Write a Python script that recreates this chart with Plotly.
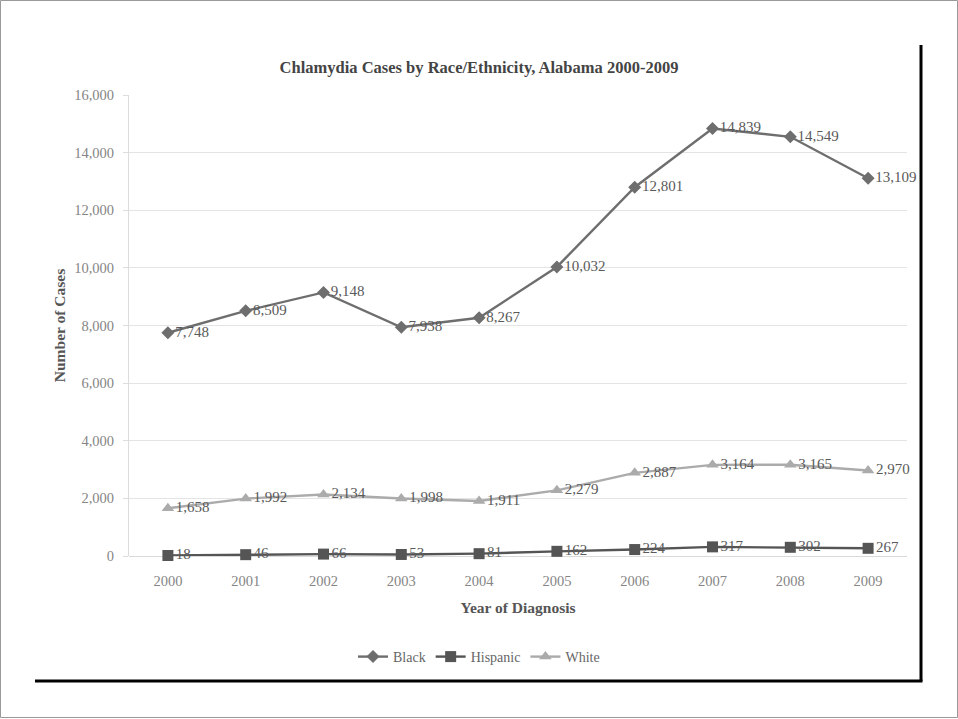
import plotly.graph_objects as go

years = ["2000", "2001", "2002", "2003", "2004", "2005", "2006", "2007", "2008", "2009"]
black = [7748, 8509, 9148, 7938, 8267, 10032, 12801, 14839, 14549, 13109]
hispanic = [18, 46, 66, 53, 81, 162, 224, 317, 302, 267]
white = [1658, 1992, 2134, 1998, 1911, 2279, 2887, 3164, 3165, 2970]
y_ticks = [0, 2000, 4000, 6000, 8000, 10000, 12000, 14000, 16000]

FONT = "Liberation Serif, Times New Roman, serif"

def fmt(v):
    return f"{v:,}"

L, R, T, B = 129, 51, 95, 163
W, H = 958, 719
PW, PH = W - L - R, H - T - B

def px(x):
    return (x - L) / PW

def py(y):
    return (T + PH - y) / PH

fig = go.Figure()
series = [
    ("Black", black, "#6e6e6e", "diamond", 10),
    ("Hispanic", hispanic, "#555555", "square", 11),
    ("White", white, "#ababab", "triangle-up", 11),
]
for name, vals, col, sym, ms in series:
    fig.add_trace(go.Scatter(
        x=years, y=vals, name=name, mode="lines+markers+text",
        line=dict(color=col, width=2.4),
        marker=dict(symbol=sym, size=ms, color=col),
        text=[fmt(v) for v in vals], textposition="middle right",
        textfont=dict(family=FONT, size=15, color="#5a5a5a"),
        cliponaxis=False,
    ))

fig.update_layout(
    width=W, height=H,
    margin=dict(l=L, r=R, t=T, b=B),
    paper_bgcolor="white", plot_bgcolor="white",
    font=dict(family=FONT, color="#666666"),
    title=dict(text="<b>Chlamydia Cases by Race/Ethnicity, Alabama 2000-2009</b>",
               x=0.5, xanchor="center", y=1 - 67 / H, yanchor="middle",
               font=dict(family=FONT, size=16.5, color="#444444")),
    xaxis=dict(type="category", range=[-0.5, 9.5], showgrid=False, showline=False, ticks="",
               automargin=False, ticklabelstandoff=14,
               tickfont=dict(family=FONT, size=14.5, color="#858585"),
               title=dict(text="<b>Year of Diagnosis</b>", standoff=14,
                          font=dict(family=FONT, size=15.5, color="#555555"))),
    yaxis=dict(range=[0, 16000], tickvals=y_ticks,
               ticktext=[fmt(v) for v in y_ticks],
               automargin=False,
               showline=True, linecolor="#dcdcdc", linewidth=1,
               ticks="outside", ticklen=5, tickcolor="#dcdcdc", ticklabelstandoff=6,
               showgrid=True, gridcolor="#e4e4e4", gridwidth=1,
               zeroline=True, zerolinecolor="#d9d9d9", zerolinewidth=1,
               tickfont=dict(family=FONT, size=14.5, color="#858585"),
               title=dict(text="<b>Number of Cases</b>", standoff=4,
                          font=dict(family=FONT, size=15.5, color="#555555"))),
    legend=dict(orientation="h", x=px(479), xanchor="center", y=py(657), yanchor="middle",
                font=dict(family=FONT, size=14, color="#666666"),
                tracegroupgap=0),
    showlegend=True,
)

# decorative frame lines (paper coordinates)
fig.add_shape(type="rect", xref="paper", yref="paper", x0=px(0.5), x1=px(957.5),
              y0=py(717.5), y1=py(0.5), line=dict(color="#999999", width=1))
fig.add_shape(type="line", xref="paper", yref="paper",
              x0=px(921), x1=px(921), y0=py(681), y1=py(45),
              line=dict(color="black", width=3))
fig.add_shape(type="line", xref="paper", yref="paper",
              x0=px(35), x1=px(922.5), y0=py(681), y1=py(681),
              line=dict(color="black", width=3))

fig.write_html("out.html", config={"displayModeBar": False},
               post_script="document.body.style.margin='0';document.body.style.overflow='hidden';")
